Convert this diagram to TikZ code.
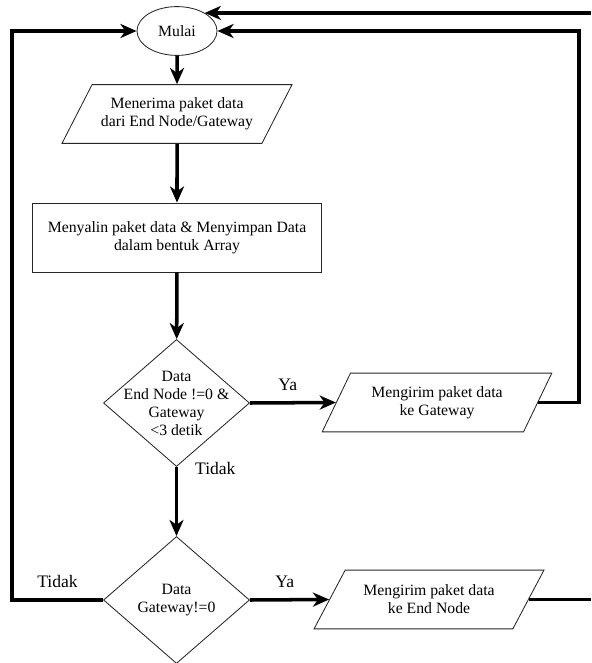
\documentclass[tikz,border=0pt]{standalone}
\usepackage{fontspec}
\setmainfont{Liberation Serif}
\usetikzlibrary{shapes.geometric,arrows.meta}

\tikzset{
  base/.style={draw=black!85, line width=0.6pt, font=\fontsize{11.2}{12.8}\selectfont, align=center, inner sep=1pt},
  startnode/.style={base, ellipse, minimum width=2cm, minimum height=1.22cm},
  io/.style={base, trapezium, trapezium stretches=true, minimum width=5.75cm, minimum height=1.47cm},
  process/.style={base, rectangle, minimum width=7.225cm, minimum height=1.725cm},
  decision/.style={base, diamond, inner sep=0pt, minimum width=3.65cm, minimum height=3.175cm},
  dectext/.style={font=\fontsize{11.2}{12.8}\selectfont, align=center, inner sep=0pt},
  flow/.style={line width=2.5pt, -{Stealth[length=11.5pt,width=10pt,inset=3.5pt]}},
  link/.style={line width=2.5pt},
  answer/.style={font=\fontsize{12.5}{15}\selectfont, inner sep=2pt}
}

\begin{document}
\begin{tikzpicture}[x=0.025cm, y=-0.025cm]
\useasboundingbox (0,0) rectangle (591,663);

% nodes
\node[startnode] (mulai) at (177,31) {Mulai};
\node[io, trapezium left angle=52, trapezium right angle=128] (terima) at (177,114) {Menerima paket data\\dari End Node/Gateway};
\node[process] (salin) at (177,237.5) {Menyalin paket data \& Menyimpan Data\\dalam bentuk Array};
\node[decision, label={[dectext]center:Data\\End Node !=0 \&\\Gateway\\<3 detik}] (cekA) at (176.5,403) {};
\node[io, trapezium left angle=58, trapezium right angle=122] (kirimGw) at (437,402.5) {Mengirim paket data\\ke Gateway};
\node[decision, label={[dectext]center:Data\\Gateway!=0}] (cekB) at (176.5,600) {};
\node[io, trapezium left angle=52, trapezium right angle=128] (kirimEn) at (429,599.5) {Mengirim paket data\\ke End Node};

% corner points
\coordinate (tepi) at (591,0);
\coordinate (kiri) at (12,31);
\coordinate (kanan) at (579,31);

% connectors
\draw[flow] (mulai) -- (terima);
\draw[flow] (terima) -- (salin);
\draw[flow] (salin) -- (cekA);
\draw[flow] (cekA.east) -- node[answer, above=5.5pt, pos=.44] {Ya} (kirimGw.left side);
\draw[flow] (kirimGw.right side) -| (kanan) -- (mulai.east);
\draw[flow] (cekA.south) -- node[answer, right=10pt, pos=0.02] {Tidak} (cekB.north);
\draw[flow] (cekB.east) -- node[answer, above=5.5pt, pos=.44] {Ya} (kirimEn.left side);
\draw[flow] (cekB.west) -| node[answer, above=5.5pt, pos=.25] {Tidak} (kiri) -- (mulai.west);
\draw[link] (kirimEn.right side) -- (kirimEn.right side -| tepi);
\draw[flow] (mulai.33 -| tepi) -- (mulai.33);
\end{tikzpicture}
\end{document}
